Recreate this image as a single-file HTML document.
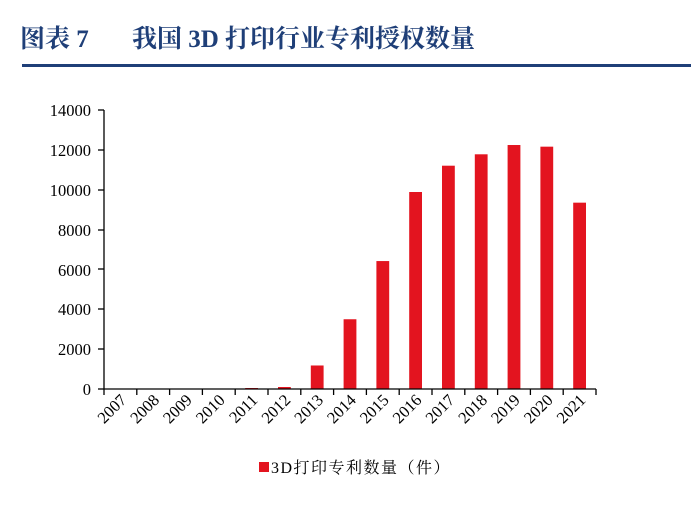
<!DOCTYPE html>
<html><head><meta charset="utf-8"><style>
html,body{margin:0;padding:0;background:#fff;}
svg{display:block;}
.s{font-family:"Liberation Serif","Noto Serif CJK SC",serif;}
</style></head><body>
<svg width="700" height="515" xmlns="http://www.w3.org/2000/svg">
<text class="s" x="20" y="47" font-size="25" font-weight="bold" fill="#1f3f78">图表 7</text>
<text class="s" x="132" y="47" font-size="25" font-weight="bold" fill="#1f3f78">我国 3D 打印行业专利授权数量</text>
<rect x="22" y="64" width="669" height="3" fill="#1f3f78"/>
<g class="s" font-size="16.5" fill="#000" text-anchor="end">
<text x="91" y="395">0</text>
<text x="91" y="355">2000</text>
<text x="91" y="315">4000</text>
<text x="91" y="276">6000</text>
<text x="91" y="236">8000</text>
<text x="91" y="196">10000</text>
<text x="91" y="156">12000</text>
<text x="91" y="116">14000</text>
</g>
<g stroke="#000" stroke-width="1.3">
<line x1="104" y1="110" x2="104" y2="389"/>
<line x1="98" y1="110" x2="104" y2="110"/><line x1="98" y1="150" x2="104" y2="150"/><line x1="98" y1="190" x2="104" y2="190"/><line x1="98" y1="230" x2="104" y2="230"/><line x1="98" y1="269" x2="104" y2="269"/><line x1="98" y1="309" x2="104" y2="309"/><line x1="98" y1="349" x2="104" y2="349"/><line x1="98" y1="389" x2="104" y2="389"/>
</g>
<g fill="#e3141f" id="bars"></g>
<line x1="104" y1="389" x2="596" y2="389" stroke="#000" stroke-width="1.3"/>
<g id="xt" stroke="#000" stroke-width="1.3"></g>
<g id="xl" class="s" font-size="16.5" fill="#000" text-anchor="end"></g>
<rect x="259" y="462" width="10" height="10" fill="#e3141f"/>
<text class="s" x="271" y="473" font-size="16" letter-spacing="1.5" fill="#000">3D打印专利数量（件）</text>
<script>
var vals=[0,0,0,20,50,100,1180,3500,6420,9885,11205,11777,12243,12160,9350];
var bars=document.getElementById('bars'),xt=document.getElementById('xt'),xl=document.getElementById('xl');
var ns='http://www.w3.org/2000/svg',w=(596-104)/15;
for(var i=0;i<15;i++){
 var c=104+w*(i+0.5),h=vals[i]*279/14000;
 var r=document.createElementNS(ns,'rect');r.setAttribute('x',c-6.4);r.setAttribute('y',389-h);r.setAttribute('width',12.8);r.setAttribute('height',h);bars.appendChild(r);
 var l=document.createElementNS(ns,'line');var tx=104+w*(i+1);l.setAttribute('x1',tx);l.setAttribute('x2',tx);l.setAttribute('y1',389);l.setAttribute('y2',395);xt.appendChild(l);
 var t=document.createElementNS(ns,'text');t.setAttribute('transform','translate('+(c+7)+',401) rotate(-45)');t.textContent=2007+i;xl.appendChild(t);
}
var l0=document.createElementNS(ns,'line');l0.setAttribute('x1',104);l0.setAttribute('x2',104);l0.setAttribute('y1',389);l0.setAttribute('y2',395);xt.appendChild(l0);
</script>
</svg>
</body></html>
